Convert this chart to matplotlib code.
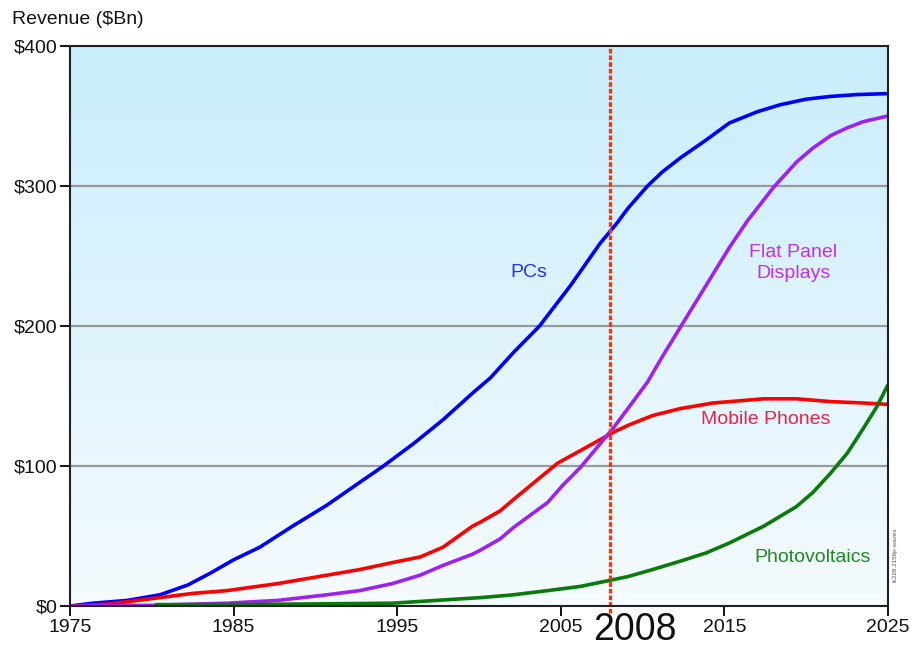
import numpy as np
import matplotlib.pyplot as plt

plt.rcParams['font.family'] = ['Liberation Sans', 'DejaVu Sans']

# revenue curves, $Bn by year
pc_years = [1975, 1976.4, 1978.5, 1980.5, 1982.2, 1983.6, 1985.0, 1986.6, 1988.6, 1990.7,
            1992.3, 1994.1, 1996.0, 1997.8, 1999.6, 2000.7, 2002.1, 2003.7, 2005.6, 2007.4,
            2008.4, 2009.1, 2010.3, 2011.2, 2012.3, 2013.9, 2015.3, 2017.0, 2018.4, 2020.0,
            2021.5, 2023.1, 2025]
pc_rev = [0, 2, 4, 8, 15, 23.6, 33, 42, 57, 72,
          85, 99.5, 116, 133, 152, 163, 181, 200, 229, 259,
          273, 284, 300, 310, 320, 333, 345, 353, 358, 362,
          364, 365.3, 366]

phone_years = [1975, 1977.4, 1980.5, 1982.5, 1984.6, 1987.7, 1990.7, 1992.7, 1994.7, 1996.4,
               1997.8, 1999.6, 2000.1, 2001.3, 2002.1, 2004.8, 2006.2, 2008.2, 2009.1, 2010.6,
               2012.3, 2014.3, 2017.4, 2019.4, 2021.5, 2023.5, 2025]
phone_rev = [0, 1.4, 6, 9, 11, 16, 22, 26, 31, 35,
             42, 57, 60, 68, 76, 102, 111, 124, 129, 136,
             141, 145, 148, 148, 146, 145, 144]

fpd_years = [1975, 1980, 1984.6, 1987.7, 1990.7, 1992.7, 1994.7, 1996.4, 1997.8, 1999.6,
             2000.1, 2001.3, 2002.1, 2004.2, 2005.1, 2006.2, 2007.2, 2008.2, 2009.1, 2010.3,
             2011.2, 2012.3, 2013.3, 2015.3, 2016.4, 2018.0, 2019.4, 2020.4, 2021.5, 2022.5,
             2023.5, 2025]
fpd_rev = [0, 0.5, 2, 4, 8, 11, 16, 22, 29, 37,
           40, 48, 56, 74, 86, 99, 113, 127, 141, 160,
           178, 199, 218, 256, 275, 299, 317, 327, 336, 341.5,
           346, 350]

pv_years = [1980.2, 1985, 1990, 1994.7, 2000.1, 2002.1, 2004.2, 2006.2, 2009.1, 2010.6,
            2012.3, 2013.9, 2015.3, 2017.4, 2019.4, 2020.4, 2021.5, 2022.5, 2023.5, 2024.3,
            2025]
pv_rev = [1, 1, 1.5, 2, 6, 8, 11, 14, 21, 26,
          32, 38, 45, 57, 71, 81, 95, 109, 127, 142,
          158]

x_ticks = [1975, 1985, 1995, 2005, 2015, 2025]
y_ticks = [0, 100, 200, 300, 400]
y_labels = ['$0', '$100', '$200', '$300', '$400']
now_year = 2008

fig = plt.figure(figsize=(9.13, 6.51), dpi=100)
ax = fig.add_axes([70 / 913, 45 / 651, 818 / 913, 560 / 651])

# sky gradient behind the plot, darker at the top
grad = np.linspace(0, 1, 256).reshape(-1, 1)
top = np.array([0.79, 0.93, 0.99])
bot = np.array([0.96, 0.985, 1.0])
img = top * (1 - grad[..., None]) + bot * grad[..., None]
ax.imshow(img, extent=[1975, 2025, 0, 400], aspect='auto', origin='upper', zorder=0)
ax.set_xlim(1975, 2025)
ax.set_ylim(0, 400)

for y in y_ticks[1:-1]:
    ax.axhline(y, color='#999999', lw=1.6, zorder=1)

kw = dict(lw=2.6, solid_joinstyle='round', solid_capstyle='butt')
ax.plot(pc_years, pc_rev, color='#0000ff', zorder=3, **kw)
ax.plot(phone_years, phone_rev, color='#ff0000', zorder=4, **kw)
ax.plot(fpd_years, fpd_rev, color='#a020f0', zorder=5, **kw)
ax.plot(pv_years, pv_rev, color='#0a7a0a', zorder=6, **kw)

ax.plot([now_year, now_year], [-5, 400], color='#ff3300', lw=2.4,
        linestyle=(0, (1.4, 0.6)), zorder=7, clip_on=False)

ax.text(2003.05, 238, 'PCs', color='#2233ee', fontsize=14, ha='center', va='center')
ax.text(2019.2, 245, 'Flat Panel\nDisplays', color='#c030f0', fontsize=14,
        ha='center', va='center', linespacing=1.25)
ax.text(2017.5, 133, 'Mobile Phones', color='#ee2244', fontsize=14, ha='center', va='center')
ax.text(2020.4, 35, 'Photovoltaics', color='#228822', fontsize=14, ha='center', va='center')

ax.set_xticks(x_ticks)
ax.set_xticklabels([str(v) for v in x_ticks])
ax.set_yticks(y_ticks)
ax.set_yticklabels(y_labels)
ax.tick_params(axis='both', direction='out', length=7, width=1.4, labelsize=14,
               colors='#111111', pad=2)
for s in ax.spines.values():
    s.set_linewidth(1.5)
    s.set_color('#222222')
    s.set_zorder(8)

fig.text(12 / 913, 1 - 19 / 651, 'Revenue ($Bn)', fontsize=14, ha='left', va='center',
         color='#111111')
fig.text(635 / 913, 1 - 630 / 651, '2008', fontsize=27, ha='center', va='center',
         color='#111111')
fig.text(895 / 913, 1 - 555 / 651, 'fx228.2158p-waves', fontsize=4.5, rotation=90,
         ha='center', va='center', color='#555555')

fig.savefig('out.png', dpi=100)
